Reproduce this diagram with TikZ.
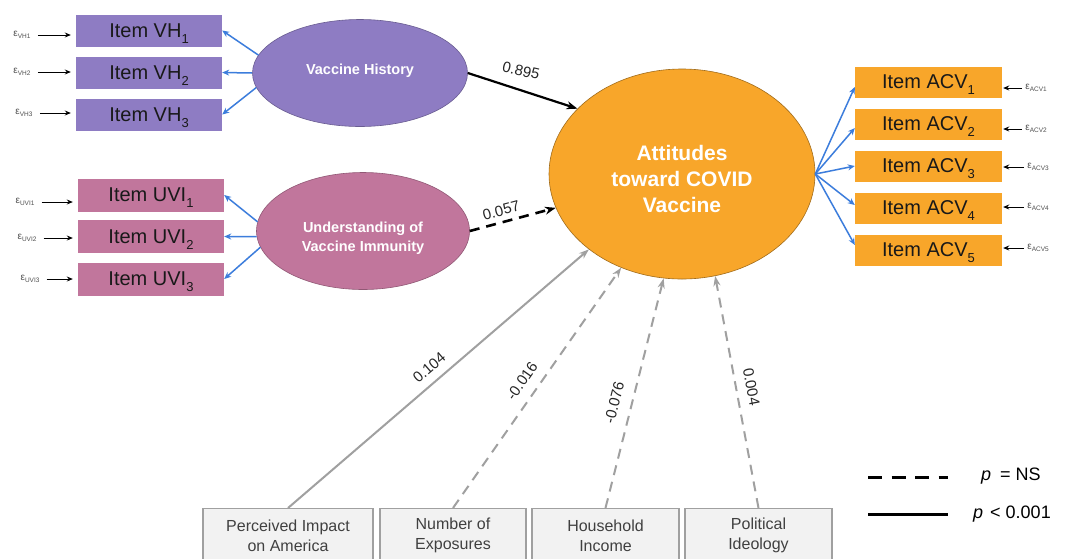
\documentclass[tikz,border=0pt]{standalone}
\usepackage{fontspec}
\setmainfont{Liberation Sans}
\usetikzlibrary{arrows.meta,shapes.geometric,calc}
\definecolor{vhc}{HTML}{8E7CC3}
\definecolor{uvic}{HTML}{C1769C}
\definecolor{acvc}{HTML}{F8A62A}
\definecolor{bluec}{HTML}{3C7DDC}
\definecolor{grayc}{HTML}{A0A0A0}
\definecolor{boxgray}{HTML}{F2F2F2}
\definecolor{epsc}{HTML}{505050}
\newcommand\itsub[1]{\raisebox{-0.3em}[0pt][0pt]{\fontsize{13}{13}\selectfont #1}}
\newcommand\epsl[1]{{\fontsize{10}{10}\selectfont ε}\raisebox{-1.5pt}{\fontsize{6.5}{7}\selectfont #1}}
\begin{document}
\begin{tikzpicture}[x=1pt,y=-1pt,
 itembox/.style={rectangle, minimum width=146pt, minimum height=32pt, inner sep=0pt, font=\fontsize{20}{24}\selectfont, text=black!90},
 latent/.style={ellipse, inner sep=0pt, line width=0.6pt},
 latenttext/.style={inner sep=0pt, text=white, align=center, font=\bfseries\fontsize{14.5}{19}\selectfont},
 epsnode/.style={inner sep=0pt, text=epsc},
 errarrow/.style={-{Stealth[length=6pt,width=5pt]}, line width=0.9pt, black},
 loadarrow/.style={-{Stealth[length=7pt,width=6pt]}, line width=1.5pt, bluec},
 obsbox/.style={rectangle, draw=grayc, line width=1.2pt, fill=boxgray, minimum height=54pt, inner sep=0pt, align=center, text=black!75, font=\fontsize{16}{20}\selectfont},
 garrow/.style={-{Stealth[length=10pt,width=7pt]}, line width=2pt, grayc},
 gdash/.style={garrow, dash pattern=on 10pt off 7pt},
 coef/.style={font=\fontsize{15}{18}\selectfont, text=black!85, inner sep=1pt},
]
\fill[white] (0,0) rectangle (1075,558);
\useasboundingbox (0,0) rectangle (1075,558);
\clip (0,0) rectangle (1075,558);

% indicator boxes
\node[itembox, fill=vhc] (vh1) at (149,30.5) {Item VH\itsub{1}};
\node[itembox, fill=vhc] (vh2) at (149,72.5) {Item VH\itsub{2}};
\node[itembox, fill=vhc] (vh3) at (149,114.5) {Item VH\itsub{3}};
\node[itembox, fill=uvic, minimum height=33pt] (uvi1) at (151,195) {Item UVI\itsub{1}};
\node[itembox, fill=uvic, minimum height=33pt] (uvi2) at (151,236.5) {Item UVI\itsub{2}};
\node[itembox, fill=uvic, minimum height=33pt] (uvi3) at (151,279) {Item UVI\itsub{3}};
\node[itembox, fill=acvc, minimum width=147pt, minimum height=31pt] (acv1) at (928.5,82) {Item ACV\itsub{1}};
\node[itembox, fill=acvc, minimum width=147pt, minimum height=31pt] (acv2) at (928.5,124) {Item ACV\itsub{2}};
\node[itembox, fill=acvc, minimum width=147pt, minimum height=31pt] (acv3) at (928.5,166) {Item ACV\itsub{3}};
\node[itembox, fill=acvc, minimum width=147pt, minimum height=31pt] (acv4) at (928.5,208) {Item ACV\itsub{4}};
\node[itembox, fill=acvc, minimum width=147pt, minimum height=31pt] (acv5) at (928.5,250) {Item ACV\itsub{5}};

% latent variables
\node[latent, fill=vhc, draw=vhc!75!black, minimum width=215pt, minimum height=107pt] (vh) at (360,73) {};
\node[latenttext] (vhtext) at ([yshift=2pt]vh.center) {Vaccine History};
\node[latent, fill=uvic, draw=uvic!75!black, minimum width=213pt, minimum height=117pt] (uvi) at (363,231) {};
\node[latenttext] (uvitext) at ([yshift=-7pt]uvi.center) {Understanding\hspace{4pt}of\\Vaccine\hspace{4pt}Immunity};
\node[latent, fill=acvc, draw=acvc!65!black, minimum width=266pt, minimum height=210pt] (att) at (682,174) {};
\node[latenttext, font=\bfseries\fontsize{21}{26}\selectfont] (atttext) at ([yshift=-5pt]att.center) {Attitudes\\toward COVID\\Vaccine};

% error terms
\node[epsnode] (evh1) at (22,35) {\epsl{VH1}};
\node[epsnode] (evh2) at (22,72) {\epsl{VH2}};
\node[epsnode] (evh3) at (24,113) {\epsl{VH3}};
\node[epsnode] (euvi1) at (25,202) {\epsl{UVI1}};
\node[epsnode] (euvi2) at (27,238) {\epsl{UVI2}};
\node[epsnode] (euvi3) at (30,279) {\epsl{UVI3}};
\foreach \e/\b in {evh1/vh1,evh2/vh2,evh3/vh3,euvi1/uvi1,euvi2/uvi2,euvi3/uvi3}{
  \draw[errarrow, shorten <=7pt, shorten >=5pt] (\e.east) -- (\e.east -| \b.west);
}
\node[epsnode] (eacv1) at (1036,88) {\epsl{ACV1}};
\node[epsnode] (eacv2) at (1036,129) {\epsl{ACV2}};
\node[epsnode] (eacv3) at (1038,167) {\epsl{ACV3}};
\node[epsnode] (eacv4) at (1038,207) {\epsl{ACV4}};
\node[epsnode] (eacv5) at (1038,248) {\epsl{ACV5}};
\foreach \e/\b in {eacv1/acv1,eacv2/acv2,eacv3/acv3,eacv4/acv4,eacv5/acv5}{
  \draw[errarrow, shorten <=3pt, shorten >=1pt] (\e.west) -- (\e.west -| \b.east);
}

% loadings
\draw[loadarrow] (vh.170) -- (vh1.east);
\draw[loadarrow] (vh.180) -- (vh2.east);
\draw[loadarrow] (vh.188) -- (vh3.east);
\draw[loadarrow] (uvi.175) -- (uvi1.east);
\draw[loadarrow] (uvi.183) -- (uvi2.east);
\draw[loadarrow] (uvi.189) -- (uvi3.east);
\draw[loadarrow] (att.east) -- ([yshift=-5pt]acv1.west);
\draw[loadarrow] (att.east) -- ([yshift=-4pt]acv2.west);
\draw[loadarrow] (att.east) -- (acv3.west);
\draw[loadarrow] (att.east) -- ([yshift=3pt]acv4.west);
\draw[loadarrow] (att.east) -- ([yshift=5pt]acv5.west);

% structural paths
\draw[-{Stealth[length=11pt,width=8pt]}, line width=2.2pt] (vh.east) -- (att.148)
  node[coef, pos=0.47, above=12pt, rotate=-13] {0.895};
\draw[-{Stealth[length=11pt,width=8pt]}, line width=2.6pt, dash pattern=on 10pt off 7pt] (uvi.east) -- (att.195)
  node[coef, pos=0.4, sloped, above=4pt] {0.057};

% observed covariates
\node[obsbox, minimum width=170pt, anchor=north] (pia) at (288,508) {Perceived Impact\\on America};
\node[obsbox, minimum width=146pt, anchor=north] (noe) at (453,508) {Number of\\Exposures};
\node[obsbox, minimum width=147pt, anchor=north] (hhi) at (605.5,508) {Household\\Income};
\node[obsbox, minimum width=147pt, anchor=north] (pid) at (758.5,508) {Political\\Ideology};

\draw[garrow] (pia.north) -- (att.219) node[coef, pos=0.5, sloped, above=7pt] {0.104};
\draw[gdash] (noe.north) -- (att.237) node[coef, pos=0.49, sloped, above=9pt] {-0.016};
\draw[gdash] (hhi.north) -- (att.260) node[coef, pos=0.44, sloped, above=10pt] {-0.076};
\draw[gdash] (pid.north) -- (att.288) node[coef, pos=0.51, sloped, above=8pt] {0.004};

% legend
\coordinate (lga) at (868,477);
\coordinate (lgb) at (948,477);
\coordinate (lgc) at (868,514);
\coordinate (lgd) at (948,514);
\draw[line width=3pt, dash pattern=on 14pt off 9.5pt] (lga) -- (lgb);
\draw[line width=3pt] (lgc) -- (lgd);
\node[anchor=west, inner sep=0pt, font=\fontsize{18}{22}\selectfont] (lgns) at (981,476) {\textit{p}\hspace{9pt}= NS};
\node[anchor=west, inner sep=0pt, font=\fontsize{18}{22}\selectfont] (lgsig) at (973,514) {\textit{p}\hspace{7pt}< 0.001};
\end{tikzpicture}
\end{document}
